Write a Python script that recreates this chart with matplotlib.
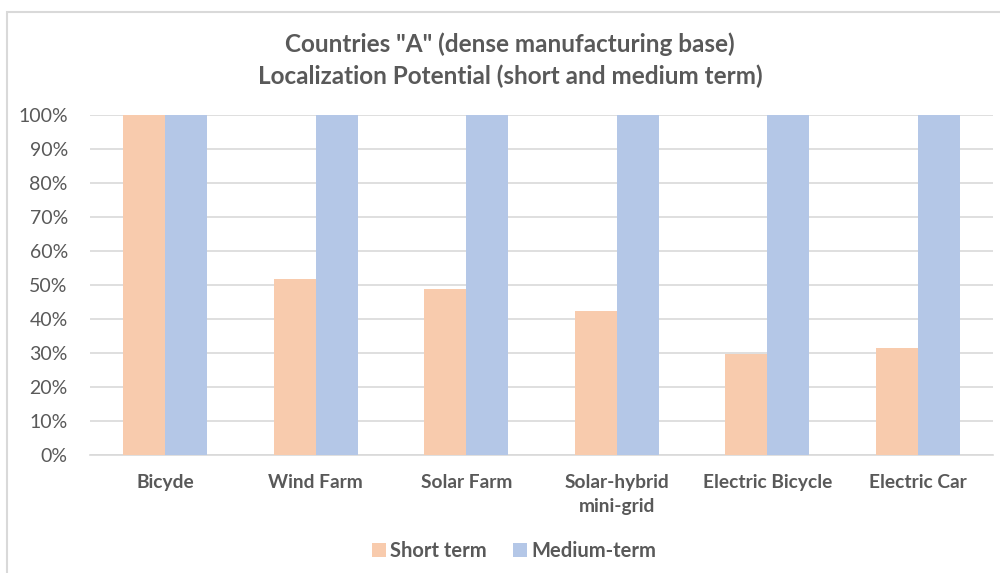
import matplotlib.pyplot as plt
import numpy as np
from matplotlib.patches import Rectangle
from matplotlib.ticker import PercentFormatter

categories = ["Bicyde", "Wind Farm", "Solar Farm", "Solar-hybrid\nmini-grid",
              "Electric Bicycle", "Electric Car"]
short_term = [100, 51.8, 48.9, 42.4, 29.6, 31.5]
medium_term = [100, 100, 100, 100, 100, 100]
series_names = ["Short term", "Medium-term"]
colors = ["#F8CBAD", "#B4C7E7"]
text_color = "#595959"

plt.rcParams['font.family'] = ['Lato', 'DejaVu Sans']

fig = plt.figure(figsize=(10, 5.73), dpi=100)
ax = fig.add_axes([0.09, 0.2059, 0.903, 0.5934])

x = np.arange(len(categories))
w = 0.28
ax.bar(x - w / 2, short_term, w, color=colors[0], label=series_names[0], zorder=3)
ax.bar(x + w / 2, medium_term, w, color=colors[1], label=series_names[1], zorder=3)

ax.set_xlim(-0.5, len(categories) - 0.5)
ax.set_ylim(0, 100)
ax.set_yticks(np.arange(0, 101, 10))
ax.yaxis.set_major_formatter(PercentFormatter(decimals=0))
ax.grid(axis='y', color='#D9D9D9', linewidth=1.2, zorder=0)
for side in ['top', 'right', 'left']:
    ax.spines[side].set_visible(False)
ax.spines['bottom'].set_color('#D9D9D9')
ax.spines['bottom'].set_linewidth(1.2)
ax.tick_params(axis='both', length=0, colors=text_color)
ax.tick_params(axis='y', pad=16, labelsize=14)
ax.tick_params(axis='x', pad=14, labelsize=13.8)
ax.set_xticks(x)
ax.set_xticklabels(categories, fontweight='bold', color=text_color, linespacing=1.45)

fig.text(0.51, 0.895, 'Countries "A" (dense manufacturing base)\nLocalization Potential (short and medium term)',
         ha='center', va='center', fontsize=17.5, fontweight='bold', color=text_color,
         linespacing=1.45)

leg = fig.legend(loc='center', bbox_to_anchor=(0.514, 0.038), ncol=2, frameon=False,
                 fontsize=14.5, handlelength=0.7, handleheight=0.7, handletextpad=0.2,
                 columnspacing=1.3)
for t in leg.get_texts():
    t.set_color(text_color)
    t.set_fontweight('bold')

# chart border
fig.patches.append(Rectangle((0.007, -0.05), 1.1, 0.05 + 1 - 12 / 573,
                             transform=fig.transFigure, fill=False,
                             edgecolor='#D9D9D9', linewidth=1.5))

fig.savefig('out.png', dpi=100)
